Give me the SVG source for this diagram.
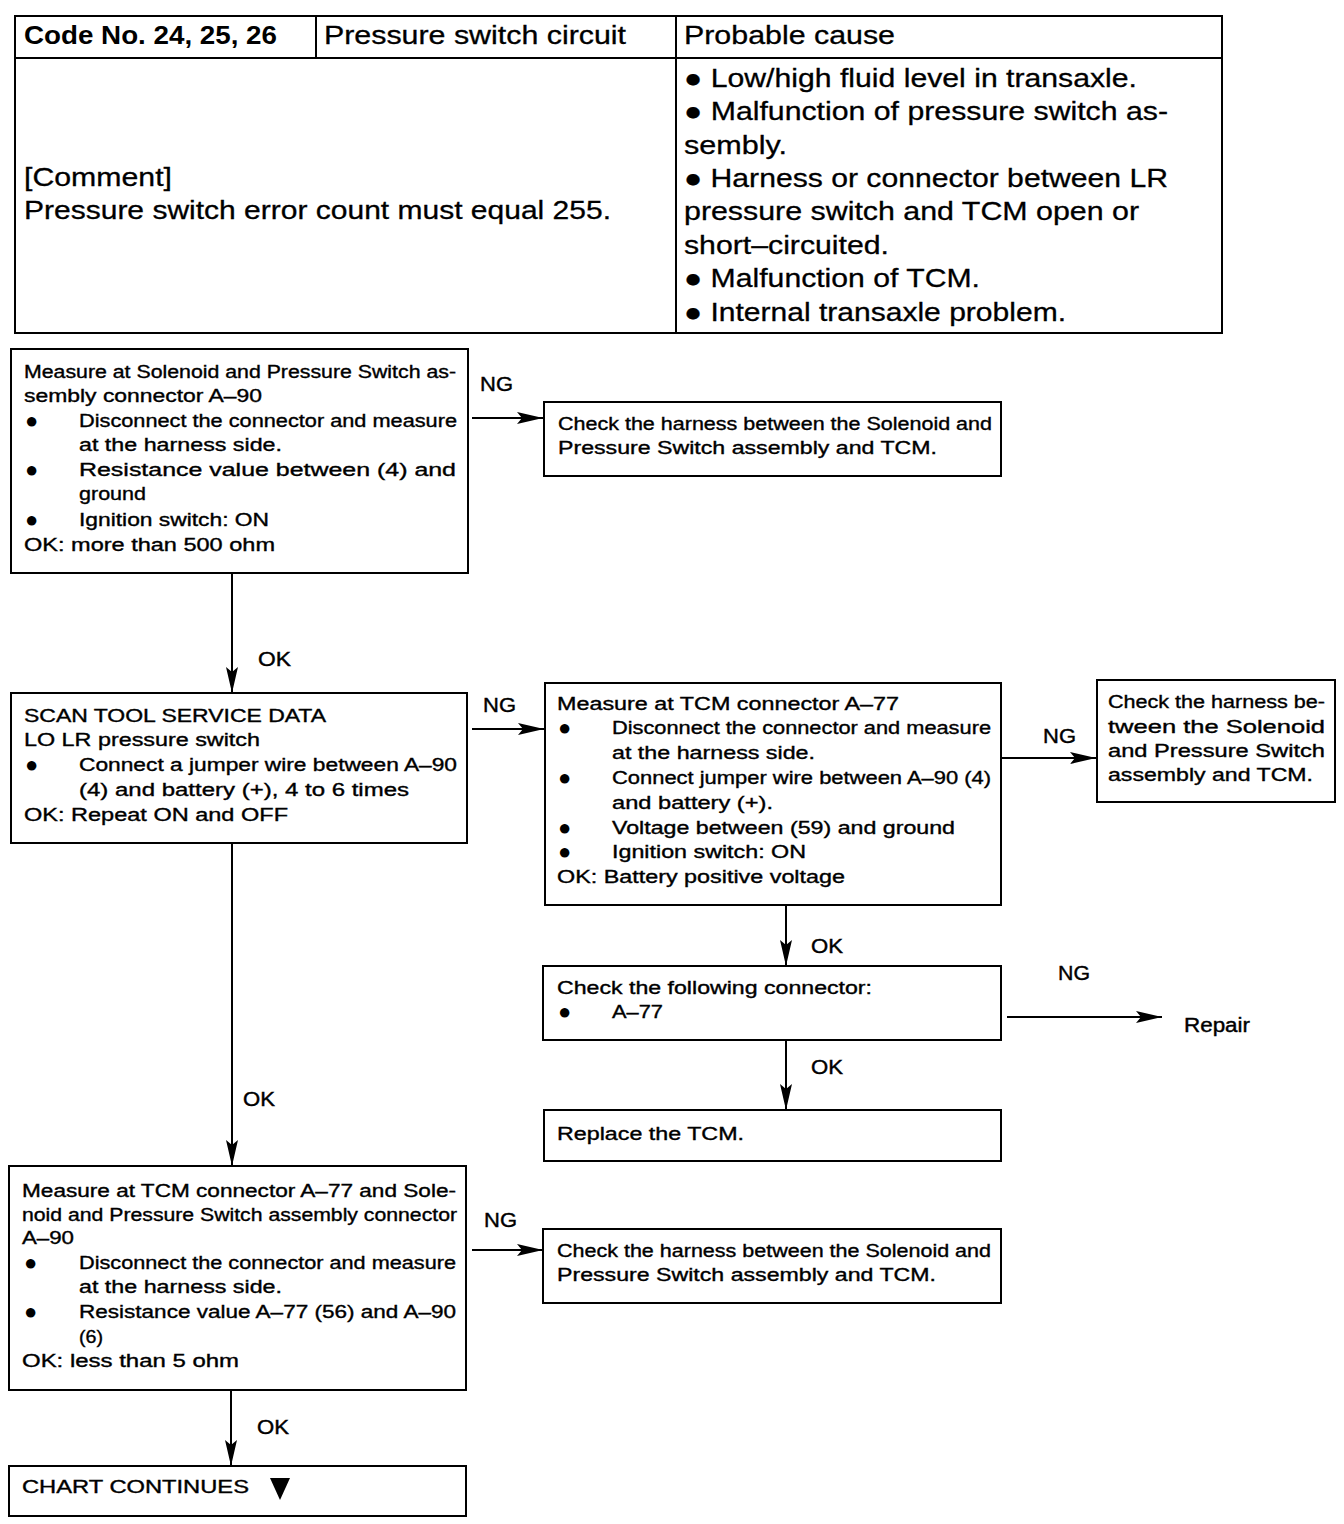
<svg xmlns="http://www.w3.org/2000/svg" width="1344" height="1524" viewBox="0 0 1344 1524">
<style>
.box{fill:#fff;stroke:#000;stroke-width:2}
.tl{stroke:#000;stroke-width:2;fill:none}
.t{font-family:"Liberation Sans",Arial,sans-serif;font-size:17.5px;fill:#000;stroke:#000;stroke-width:0.35}
.h{font-family:"Liberation Sans",Arial,sans-serif;font-size:26px;fill:#000;stroke:#000;stroke-width:0.3}
.hb{font-family:"Liberation Sans",Arial,sans-serif;font-size:26px;font-weight:bold;fill:#000}
.lb{font-family:"Liberation Sans",Arial,sans-serif;font-size:20px;fill:#000;stroke:#000;stroke-width:0.4}
.b{font-family:"Liberation Sans",Arial,sans-serif;font-size:22px;fill:#000}
.c{stroke:#000;stroke-width:2;fill:none}
</style>
<defs>
<marker id="ah" markerUnits="userSpaceOnUse" markerWidth="28" markerHeight="14" refX="26" refY="7" orient="auto">
<path d="M0,1 L26,7 L0,13 L5,7 z" fill="#000"/>
</marker>
</defs>
<rect width="1344" height="1524" fill="#fff"/>

<g id="table">
<rect x="15" y="16" width="1207" height="317" class="tl"/>
<line x1="15" y1="58" x2="1222" y2="58" class="tl"/>
<line x1="316" y1="16" x2="316" y2="58" class="tl"/>
<line x1="676" y1="16" x2="676" y2="333" class="tl"/>
<text class="hb" x="24" y="44" textLength="253" lengthAdjust="spacingAndGlyphs">Code No. 24, 25, 26</text>
<text class="h" x="324" y="44" textLength="302" lengthAdjust="spacingAndGlyphs">Pressure switch circuit</text>
<text class="h" x="684" y="44" textLength="211" lengthAdjust="spacingAndGlyphs">Probable cause</text>
<text class="h" x="24" y="186" textLength="148" lengthAdjust="spacingAndGlyphs">[Comment]</text>
<text class="h" x="24" y="219" textLength="587" lengthAdjust="spacingAndGlyphs">Pressure switch error count must equal 255.</text>
<text class="h" x="684" y="87" textLength="453" lengthAdjust="spacingAndGlyphs">● Low/high fluid level in transaxle.</text>
<text class="h" x="684" y="120" textLength="484" lengthAdjust="spacingAndGlyphs">● Malfunction of pressure switch as-</text>
<text class="h" x="684" y="154" textLength="103" lengthAdjust="spacingAndGlyphs">sembly.</text>
<text class="h" x="684" y="187" textLength="484" lengthAdjust="spacingAndGlyphs">● Harness or connector between LR</text>
<text class="h" x="684" y="220" textLength="455" lengthAdjust="spacingAndGlyphs">pressure switch and TCM open or</text>
<text class="h" x="684" y="254" textLength="205" lengthAdjust="spacingAndGlyphs">short–circuited.</text>
<text class="h" x="684" y="287" textLength="296" lengthAdjust="spacingAndGlyphs">● Malfunction of TCM.</text>
<text class="h" x="684" y="321" textLength="382" lengthAdjust="spacingAndGlyphs">● Internal transaxle problem.</text>
</g>

<g id="connectors">
<line x1="472" y1="418" x2="543" y2="418" class="c" marker-end="url(#ah)"/>
<line x1="232" y1="573" x2="232" y2="693" class="c" marker-end="url(#ah)"/>
<line x1="472" y1="729" x2="544" y2="729" class="c" marker-end="url(#ah)"/>
<line x1="1002" y1="758" x2="1096" y2="758" class="c" marker-end="url(#ah)"/>
<line x1="786" y1="905" x2="786" y2="966" class="c" marker-end="url(#ah)"/>
<line x1="1007" y1="1017" x2="1162" y2="1017" class="c" marker-end="url(#ah)"/>
<line x1="786" y1="1040" x2="786" y2="1110" class="c" marker-end="url(#ah)"/>
<line x1="232" y1="843" x2="232" y2="1166" class="c" marker-end="url(#ah)"/>
<line x1="472" y1="1250" x2="543" y2="1250" class="c" marker-end="url(#ah)"/>
<line x1="231" y1="1390" x2="231" y2="1466" class="c" marker-end="url(#ah)"/>
<text class="lb" x="480" y="391" textLength="33" lengthAdjust="spacingAndGlyphs">NG</text>
<text class="lb" x="258" y="666" textLength="33" lengthAdjust="spacingAndGlyphs">OK</text>
<text class="lb" x="483" y="712" textLength="33" lengthAdjust="spacingAndGlyphs">NG</text>
<text class="lb" x="1043" y="743" textLength="33" lengthAdjust="spacingAndGlyphs">NG</text>
<text class="lb" x="811" y="953" textLength="32" lengthAdjust="spacingAndGlyphs">OK</text>
<text class="lb" x="1058" y="980" textLength="32" lengthAdjust="spacingAndGlyphs">NG</text>
<text class="lb" x="1184" y="1032" textLength="66" lengthAdjust="spacingAndGlyphs">Repair</text>
<text class="lb" x="811" y="1074" textLength="32" lengthAdjust="spacingAndGlyphs">OK</text>
<text class="lb" x="243" y="1106" textLength="32" lengthAdjust="spacingAndGlyphs">OK</text>
<text class="lb" x="484" y="1227" textLength="33" lengthAdjust="spacingAndGlyphs">NG</text>
<text class="lb" x="257" y="1434" textLength="32" lengthAdjust="spacingAndGlyphs">OK</text>
</g>

<g id="box1">
<rect x="11" y="349" width="457" height="224" class="box"/>
<text class="t" x="24" y="378" textLength="432" lengthAdjust="spacingAndGlyphs">Measure at Solenoid and Pressure Switch as-</text>
<text class="t" x="24" y="402" textLength="238" lengthAdjust="spacingAndGlyphs">sembly connector A–90</text>
<text class="b" x="25" y="428">●</text>
<text class="t" x="79" y="427" textLength="378" lengthAdjust="spacingAndGlyphs">Disconnect the connector and measure</text>
<text class="t" x="79" y="451" textLength="203" lengthAdjust="spacingAndGlyphs">at the harness side.</text>
<text class="b" x="25" y="477">●</text>
<text class="t" x="79" y="476" textLength="377" lengthAdjust="spacingAndGlyphs">Resistance value between (4) and</text>
<text class="t" x="79" y="500" textLength="67" lengthAdjust="spacingAndGlyphs">ground</text>
<text class="b" x="25" y="527">●</text>
<text class="t" x="79" y="526" textLength="190" lengthAdjust="spacingAndGlyphs">Ignition switch: ON</text>
<text class="t" x="24" y="551" textLength="251" lengthAdjust="spacingAndGlyphs">OK: more than 500 ohm</text>
</g>

<g id="box2">
<rect x="544" y="402" width="457" height="74" class="box"/>
<text class="t" x="558" y="430" textLength="434" lengthAdjust="spacingAndGlyphs">Check the harness between the Solenoid and</text>
<text class="t" x="558" y="454" textLength="379" lengthAdjust="spacingAndGlyphs">Pressure Switch assembly and TCM.</text>
</g>

<g id="box3">
<rect x="11" y="693" width="456" height="150" class="box"/>
<text class="t" x="24" y="722" textLength="302" lengthAdjust="spacingAndGlyphs">SCAN TOOL SERVICE DATA</text>
<text class="t" x="24" y="746" textLength="236" lengthAdjust="spacingAndGlyphs">LO LR pressure switch</text>
<text class="b" x="25" y="772">●</text>
<text class="t" x="79" y="771" textLength="378" lengthAdjust="spacingAndGlyphs">Connect a jumper wire between A–90</text>
<text class="t" x="79" y="796" textLength="330" lengthAdjust="spacingAndGlyphs">(4) and battery (+), 4 to 6 times</text>
<text class="t" x="24" y="821" textLength="264" lengthAdjust="spacingAndGlyphs">OK: Repeat ON and OFF</text>
</g>

<g id="box4">
<rect x="545" y="683" width="456" height="222" class="box"/>
<text class="t" x="557" y="710" textLength="342" lengthAdjust="spacingAndGlyphs">Measure at TCM connector A–77</text>
<text class="b" x="558" y="735">●</text>
<text class="t" x="612" y="734" textLength="379" lengthAdjust="spacingAndGlyphs">Disconnect the connector and measure</text>
<text class="t" x="612" y="759" textLength="203" lengthAdjust="spacingAndGlyphs">at the harness side.</text>
<text class="b" x="558" y="785">●</text>
<text class="t" x="612" y="784" textLength="379" lengthAdjust="spacingAndGlyphs">Connect jumper wire between A–90 (4)</text>
<text class="t" x="612" y="809" textLength="161" lengthAdjust="spacingAndGlyphs">and battery (+).</text>
<text class="b" x="558" y="835">●</text>
<text class="t" x="612" y="834" textLength="343" lengthAdjust="spacingAndGlyphs">Voltage between (59) and ground</text>
<text class="b" x="558" y="859">●</text>
<text class="t" x="612" y="858" textLength="194" lengthAdjust="spacingAndGlyphs">Ignition switch: ON</text>
<text class="t" x="557" y="883" textLength="288" lengthAdjust="spacingAndGlyphs">OK: Battery positive voltage</text>
</g>

<g id="box5">
<rect x="1097" y="680" width="238" height="122" class="box"/>
<text class="t" x="1108" y="708" textLength="217" lengthAdjust="spacingAndGlyphs">Check the harness be-</text>
<text class="t" x="1108" y="733" textLength="217" lengthAdjust="spacingAndGlyphs">tween the Solenoid</text>
<text class="t" x="1108" y="757" textLength="217" lengthAdjust="spacingAndGlyphs">and Pressure Switch</text>
<text class="t" x="1108" y="781" textLength="205" lengthAdjust="spacingAndGlyphs">assembly and TCM.</text>
</g>

<g id="box6">
<rect x="543" y="966" width="458" height="74" class="box"/>
<text class="t" x="557" y="994" textLength="315" lengthAdjust="spacingAndGlyphs">Check the following connector:</text>
<text class="b" x="558" y="1019">●</text>
<text class="t" x="612" y="1018" textLength="51" lengthAdjust="spacingAndGlyphs">A–77</text>
</g>

<g id="box7">
<rect x="544" y="1110" width="457" height="51" class="box"/>
<text class="t" x="557" y="1140" textLength="187" lengthAdjust="spacingAndGlyphs">Replace the TCM.</text>
</g>

<g id="box8">
<rect x="9" y="1166" width="457" height="224" class="box"/>
<text class="t" x="22" y="1197" textLength="434" lengthAdjust="spacingAndGlyphs">Measure at TCM connector A–77 and Sole-</text>
<text class="t" x="22" y="1221" textLength="435" lengthAdjust="spacingAndGlyphs">noid and Pressure Switch assembly connector</text>
<text class="t" x="22" y="1244" textLength="52" lengthAdjust="spacingAndGlyphs">A–90</text>
<text class="b" x="24" y="1270">●</text>
<text class="t" x="79" y="1269" textLength="377" lengthAdjust="spacingAndGlyphs">Disconnect the connector and measure</text>
<text class="t" x="79" y="1293" textLength="203" lengthAdjust="spacingAndGlyphs">at the harness side.</text>
<text class="b" x="24" y="1319">●</text>
<text class="t" x="79" y="1318" textLength="377" lengthAdjust="spacingAndGlyphs">Resistance value A–77 (56) and A–90</text>
<text class="t" x="79" y="1343" textLength="24" lengthAdjust="spacingAndGlyphs">(6)</text>
<text class="t" x="22" y="1367" textLength="217" lengthAdjust="spacingAndGlyphs">OK: less than 5 ohm</text>
</g>

<g id="box9">
<rect x="543" y="1229" width="458" height="74" class="box"/>
<text class="t" x="557" y="1257" textLength="434" lengthAdjust="spacingAndGlyphs">Check the harness between the Solenoid and</text>
<text class="t" x="557" y="1281" textLength="379" lengthAdjust="spacingAndGlyphs">Pressure Switch assembly and TCM.</text>
</g>

<g id="box10">
<rect x="9" y="1466" width="457" height="50" class="box"/>
<text class="t" x="22" y="1493" textLength="227" lengthAdjust="spacingAndGlyphs">CHART  CONTINUES</text>
<polygon points="270,1478 290,1478 280,1500" fill="#000"/>
</g>
</svg>
